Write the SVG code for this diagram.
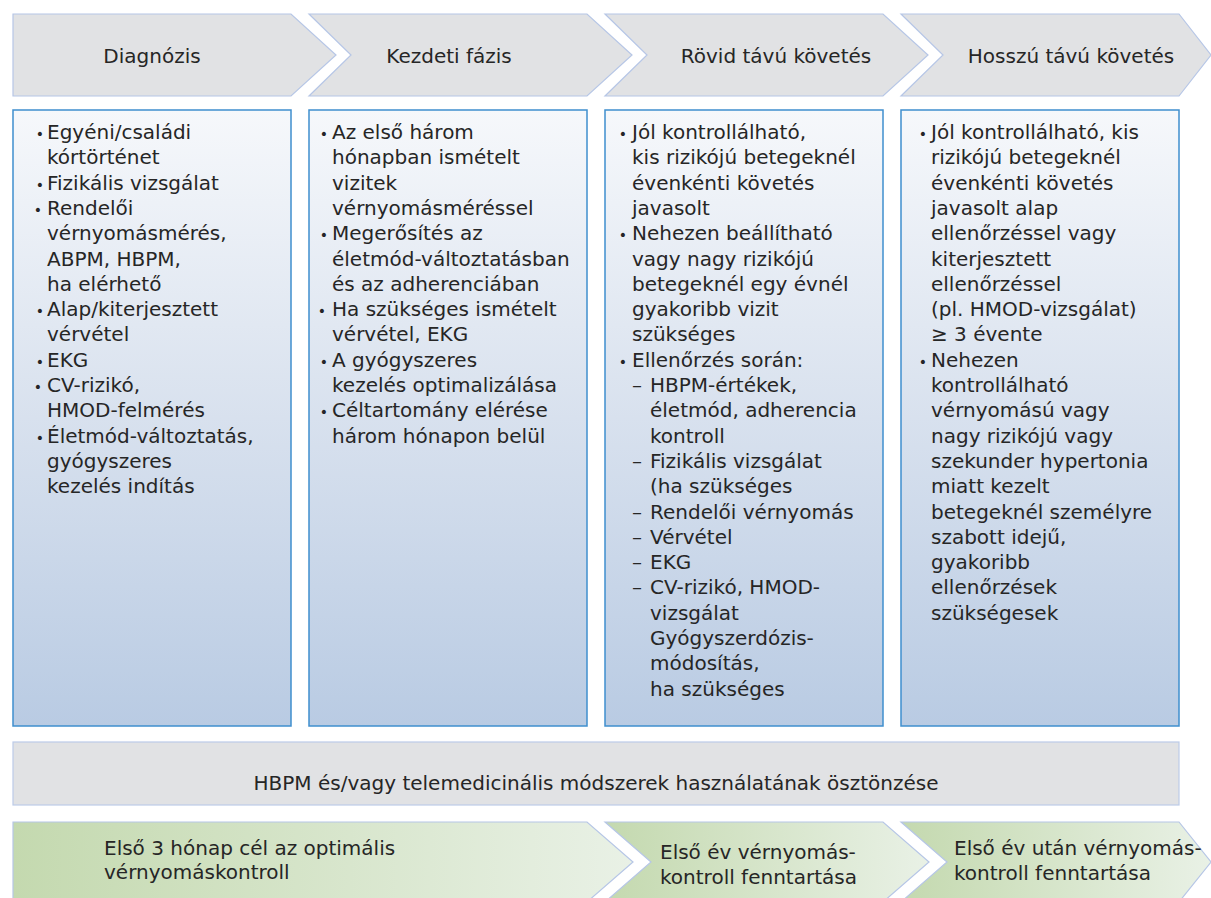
<svg xmlns="http://www.w3.org/2000/svg" width="1211" height="898" viewBox="0 0 1211 898">
  <defs>
    <linearGradient id="boxFill" x1="0" y1="0" x2="0" y2="1">
      <stop offset="0" stop-color="#f6f8fb"/>
      <stop offset="0.5" stop-color="#d8e1ee"/>
      <stop offset="1" stop-color="#b9cbe3"/>
    </linearGradient>
    <linearGradient id="greenFill" x1="0" y1="0" x2="1" y2="0">
      <stop offset="0" stop-color="#c4d9af"/>
      <stop offset="1" stop-color="#e9f1e6"/>
    </linearGradient>
    <style>
      .chev { fill: #e1e2e4; stroke: #b6c6e6; stroke-width: 1.2; }
      .band { fill: #e1e2e4; stroke: #bccbe8; stroke-width: 1.2; }
      .box { fill: url(#boxFill); stroke: #3f8fce; stroke-width: 1.5; }
      .goal { fill: url(#greenFill); stroke: #b6c6e6; stroke-width: 1.2; }
      text { font-family: "DejaVu Sans", "Open Sans", sans-serif; fill: #262626; }
      .head { font-size: 20px; text-anchor: middle; }
      .body { font-size: 20px; }
      .dot { font-size: 14px; text-anchor: middle; }
      .band-t { font-size: 20px; text-anchor: middle; }
      .goal-t { font-size: 20px; }
    </style>
  </defs>

  <!-- phase headers -->
  <g id="phase-diagnozis">
    <polygon class="chev" points="13,14 291,14 336,55 291,96 13,96"/>
    <text class="head" x="152" y="63">Diagnózis</text>
  </g>
  <g id="phase-kezdeti">
    <polygon class="chev" points="309,14 587,14 632,55 587,96 309,96 351,55"/>
    <text class="head" x="449" y="63">Kezdeti fázis</text>
  </g>
  <g id="phase-rovid">
    <polygon class="chev" points="605,14 883,14 928,55 883,96 605,96 647,55"/>
    <text class="head" x="776" y="63">Rövid távú követés</text>
  </g>
  <g id="phase-hosszu">
    <polygon class="chev" points="901,14 1179,14 1211,55 1179,96 901,96 943,55"/>
    <text class="head" x="1071" y="63">Hosszú távú követés</text>
  </g>

  <!-- content boxes -->
  <g id="box-diagnozis">
    <rect class="box" x="13" y="110" width="278" height="616"/>
    <text class="dot">
      <tspan x="40" y="139">•</tspan><tspan x="40" y="190">•</tspan><tspan x="40" y="215">•</tspan>
      <tspan x="40" y="316">•</tspan><tspan x="40" y="367">•</tspan><tspan x="40" y="392">•</tspan>
      <tspan x="40" y="443">•</tspan>
    </text>
    <text class="body">
      <tspan x="47" y="139">Egyéni/családi</tspan>
      <tspan x="47" y="164">kórtörténet</tspan>
      <tspan x="47" y="190">Fizikális vizsgálat</tspan>
      <tspan x="47" y="215">Rendelői</tspan>
      <tspan x="47" y="240">vérnyomásmérés,</tspan>
      <tspan x="47" y="266">ABPM, HBPM,</tspan>
      <tspan x="47" y="291">ha elérhető</tspan>
      <tspan x="47" y="316">Alap/kiterjesztett</tspan>
      <tspan x="47" y="341">vérvétel</tspan>
      <tspan x="47" y="367">EKG</tspan>
      <tspan x="47" y="392">CV-rizikó,</tspan>
      <tspan x="47" y="417">HMOD-felmérés</tspan>
      <tspan x="47" y="443">Életmód-változtatás,</tspan>
      <tspan x="47" y="468">gyógyszeres</tspan>
      <tspan x="47" y="493">kezelés indítás</tspan>
    </text>
  </g>

  <g id="box-kezdeti">
    <rect class="box" x="309" y="110" width="278" height="616"/>
    <text class="dot">
      <tspan x="324" y="139">•</tspan><tspan x="324" y="240">•</tspan><tspan x="324" y="316">•</tspan>
      <tspan x="324" y="367">•</tspan><tspan x="324" y="417">•</tspan>
    </text>
    <text class="body">
      <tspan x="332" y="139">Az első három</tspan>
      <tspan x="332" y="164">hónapban ismételt</tspan>
      <tspan x="332" y="190">vizitek</tspan>
      <tspan x="332" y="215">vérnyomásméréssel</tspan>
      <tspan x="332" y="240">Megerősítés az</tspan>
      <tspan x="332" y="266">életmód-változtatásban</tspan>
      <tspan x="332" y="291">és az adherenciában</tspan>
      <tspan x="332" y="316">Ha szükséges ismételt</tspan>
      <tspan x="332" y="341">vérvétel, EKG</tspan>
      <tspan x="332" y="367">A gyógyszeres</tspan>
      <tspan x="332" y="392">kezelés optimalizálása</tspan>
      <tspan x="332" y="417">Céltartomány elérése</tspan>
      <tspan x="332" y="443">három hónapon belül</tspan>
    </text>
  </g>

  <g id="box-rovid">
    <rect class="box" x="605" y="110" width="278" height="616"/>
    <text class="dot">
      <tspan x="623" y="139">•</tspan><tspan x="623" y="240">•</tspan><tspan x="623" y="367">•</tspan>
    </text>
    <text class="body">
      <tspan x="632" y="139">Jól kontrollálható,</tspan>
      <tspan x="632" y="164">kis rizikójú betegeknél</tspan>
      <tspan x="632" y="190">évenkénti követés</tspan>
      <tspan x="632" y="215">javasolt</tspan>
      <tspan x="632" y="240">Nehezen beállítható</tspan>
      <tspan x="632" y="266">vagy nagy rizikójú</tspan>
      <tspan x="632" y="291">betegeknél egy évnél</tspan>
      <tspan x="632" y="316">gyakoribb vizit</tspan>
      <tspan x="632" y="341">szükséges</tspan>
      <tspan x="632" y="367">Ellenőrzés során:</tspan>
      <tspan x="632" y="392">–</tspan><tspan x="650" y="392">HBPM-értékek,</tspan>
      <tspan x="650" y="417">életmód, adherencia</tspan>
      <tspan x="650" y="443">kontroll</tspan>
      <tspan x="632" y="468">–</tspan><tspan x="650" y="468">Fizikális vizsgálat</tspan>
      <tspan x="650" y="493">(ha szükséges</tspan>
      <tspan x="632" y="519">–</tspan><tspan x="650" y="519">Rendelői vérnyomás</tspan>
      <tspan x="632" y="544">–</tspan><tspan x="650" y="544">Vérvétel</tspan>
      <tspan x="632" y="569">–</tspan><tspan x="650" y="569">EKG</tspan>
      <tspan x="632" y="594">–</tspan><tspan x="650" y="594">CV-rizikó, HMOD-</tspan>
      <tspan x="650" y="620">vizsgálat</tspan>
      <tspan x="650" y="645">Gyógyszerdózis-</tspan>
      <tspan x="650" y="670">módosítás,</tspan>
      <tspan x="650" y="696">ha szükséges</tspan>
    </text>
  </g>

  <g id="box-hosszu">
    <rect class="box" x="901" y="110" width="278" height="616"/>
    <text class="dot">
      <tspan x="923" y="139">•</tspan><tspan x="923" y="367">•</tspan>
    </text>
    <text class="body">
      <tspan x="931" y="139">Jól kontrollálható, kis</tspan>
      <tspan x="931" y="164">rizikójú betegeknél</tspan>
      <tspan x="931" y="190">évenkénti követés</tspan>
      <tspan x="931" y="215">javasolt alap</tspan>
      <tspan x="931" y="240">ellenőrzéssel vagy</tspan>
      <tspan x="931" y="266">kiterjesztett</tspan>
      <tspan x="931" y="291">ellenőrzéssel</tspan>
      <tspan x="931" y="316">(pl. HMOD-vizsgálat)</tspan>
      <tspan x="931" y="341">≥ 3 évente</tspan>
      <tspan x="931" y="367">Nehezen</tspan>
      <tspan x="931" y="392">kontrollálható</tspan>
      <tspan x="931" y="417">vérnyomású vagy</tspan>
      <tspan x="931" y="443">nagy rizikójú vagy</tspan>
      <tspan x="931" y="468">szekunder hypertonia</tspan>
      <tspan x="931" y="493">miatt kezelt</tspan>
      <tspan x="931" y="519">betegeknél személyre</tspan>
      <tspan x="931" y="544">szabott idejű,</tspan>
      <tspan x="931" y="569">gyakoribb</tspan>
      <tspan x="931" y="594">ellenőrzések</tspan>
      <tspan x="931" y="620">szükségesek</tspan>
    </text>
  </g>

  <!-- cross-phase band -->
  <g id="band-hbpm">
    <rect class="band" x="13" y="742" width="1166" height="63"/>
    <text class="band-t" x="596" y="790">HBPM és/vagy telemedicinális módszerek használatának ösztönzése</text>
  </g>

  <!-- blood-pressure goals -->
  <g id="goal-3-honap">
    <polygon class="goal" points="13,822 587,822 633,862 587,902 13,902"/>
    <text class="goal-t"><tspan x="104" y="855">Első 3 hónap cél az optimális</tspan><tspan x="104" y="879">vérnyomáskontroll</tspan></text>
  </g>
  <g id="goal-elso-ev">
    <polygon class="goal" points="605,822 883,822 929,862 883,902 605,902 651,862"/>
    <text class="goal-t"><tspan x="660" y="859">Első év vérnyomás-</tspan><tspan x="660" y="884">kontroll fenntartása</tspan></text>
  </g>
  <g id="goal-elso-ev-utan">
    <polygon class="goal" points="901,822 1179,822 1211,862 1179,902 901,902 947,862"/>
    <text class="goal-t"><tspan x="954" y="855">Első év után vérnyomás-</tspan><tspan x="954" y="880">kontroll fenntartása</tspan></text>
  </g>
</svg>
